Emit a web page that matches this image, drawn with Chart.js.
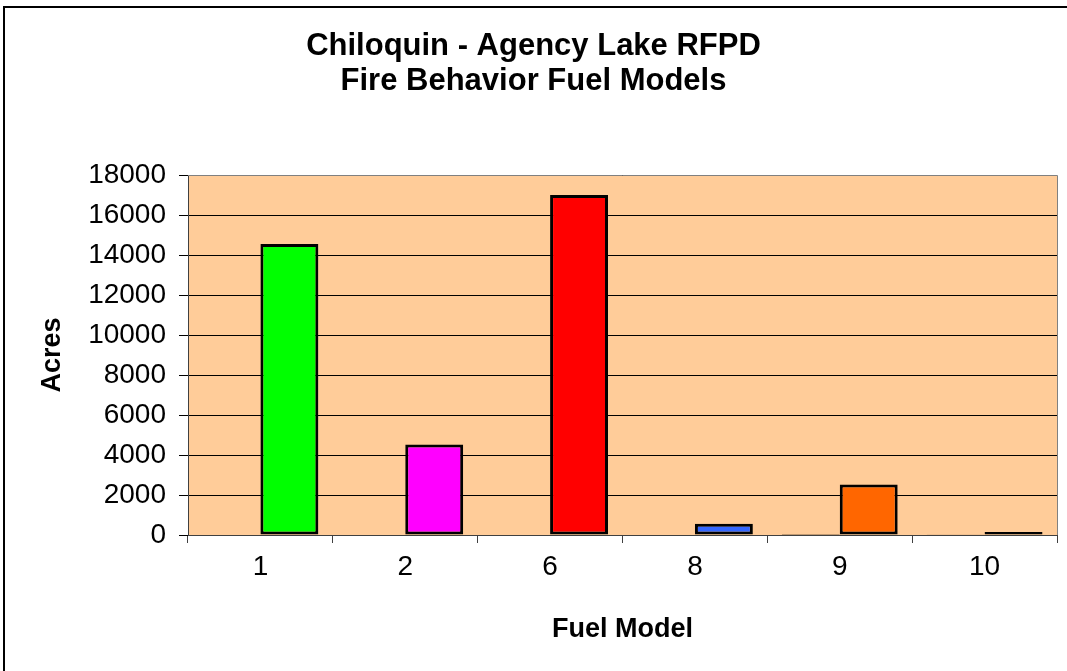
<!DOCTYPE html>
<html>
<head>
<meta charset="utf-8">
<script src="https://cdn.jsdelivr.net/npm/chart.js@4/dist/chart.umd.min.js"></script>
<style>
  body { margin: 0; background: #fff; overflow: hidden; }
  #wrap { width: 1067px; height: 671px; }
</style>
</head>
<body>
<div id="wrap"><canvas id="chart-canvas" width="1067" height="671"></canvas></div>
<script>
var fuelModels = ['1', '2', '6', '8', '9', '10'];
var acresSmall = [0, 0, 0, 0, 50, 40];
var acresMain = [14550, 4520, 17000, 560, 2530, 150];
var barColors = ['#00FF00', '#FF00FF', '#FF0000', '#3366FF', '#FF6600', '#333333'];
var titleLines = ['Chiloquin - Agency Lake RFPD', 'Fire Behavior Fuel Models'];

var fontFamily = '"Liberation Sans", Arial, sans-serif';

var canvas = document.getElementById('chart-canvas');
var ctx = canvas.getContext('2d');

var backdrop = {
    id: 'backdrop',
    beforeDraw: function (chart) {
        var c = chart.ctx, a = chart.chartArea;
        c.save();
        c.fillStyle = '#ffffff';
        c.fillRect(0, 0, chart.width, chart.height);
        c.fillStyle = '#FFCC99';
        c.fillRect(a.left, a.top, a.right - a.left, a.bottom - a.top);
        c.restore();
    },
    afterDraw: function (chart) {
        var c = chart.ctx, a = chart.chartArea;
        c.save();
        c.strokeStyle = '#808080';
        c.lineWidth = 1;
        c.beginPath();
        c.moveTo(a.left, a.top + 0.5);
        c.lineTo(a.right + 0.5, a.top + 0.5);
        c.lineTo(a.right + 0.5, a.bottom);
        c.stroke();
        // outer chart frame, only top and left edges show
        c.fillStyle = '#000000';
        c.fillRect(3, 6, chart.width - 3, 2);
        c.fillRect(3, 6, 2, chart.height - 6);
        c.restore();
    }
};

var object = {
    type: 'bar',
    data: {
        labels: fuelModels,
        datasets: [{
            label: 'small',
            data: acresSmall,
            backgroundColor: '#000000',
            borderColor: '#000000',
            borderWidth: 3,
            borderSkipped: false
        }, {
            label: 'Acres',
            data: acresMain,
            backgroundColor: barColors,
            borderColor: '#000000',
            borderWidth: 3,
            borderSkipped: false
        }]
    },
    options: {
        responsive: false,
        animation: false,
        layout: { padding: { left: 10, right: 10, top: 0, bottom: 0 } },
        datasets: { bar: { categoryPercentage: 0.8, barPercentage: 1.0 } },
        plugins: {
            legend: { display: false },
            tooltip: { enabled: false },
            title: {
                display: true,
                text: titleLines,
                color: '#000000',
                font: { family: fontFamily, size: 31, weight: 'bold', lineHeight: 35 / 31 },
                padding: { top: 28.5, bottom: 76.5 }
            }
        },
        scales: {
            x: {
                afterFit: function (scale) { scale.height = 136; },
                grid: { drawOnChartArea: false, drawTicks: true, tickLength: 8, color: '#404040', offset: true },
                border: { display: true, color: '#404040', width: 1 },
                ticks: { color: '#000000', padding: 7, font: { family: fontFamily, size: 28 } },
                title: {
                    display: true,
                    text: 'Fuel Model',
                    color: '#000000',
                    font: { family: fontFamily, size: 27, weight: 'bold' },
                    padding: { top: 0, bottom: 25 }
                }
            },
            y: {
                min: 0,
                max: 18000,
                afterFit: function (scale) { scale.width = 178; },
                grid: { color: '#000000', lineWidth: 1, tickLength: 9, drawTicks: true },
                border: { display: true, color: '#404040', width: 1 },
                ticks: {
                    stepSize: 2000,
                    color: '#000000',
                    padding: 13,
                    font: { family: fontFamily, size: 28 },
                    callback: function (value) { return String(value); }
                },
                title: {
                    display: true,
                    text: 'Acres',
                    color: '#000000',
                    font: { family: fontFamily, size: 27, weight: 'bold' },
                    padding: { top: 26, bottom: 0 }
                }
            }
        }
    },
    plugins: [backdrop]
};

var chart = new Chart(ctx, object);
</script>
</body>
</html>
